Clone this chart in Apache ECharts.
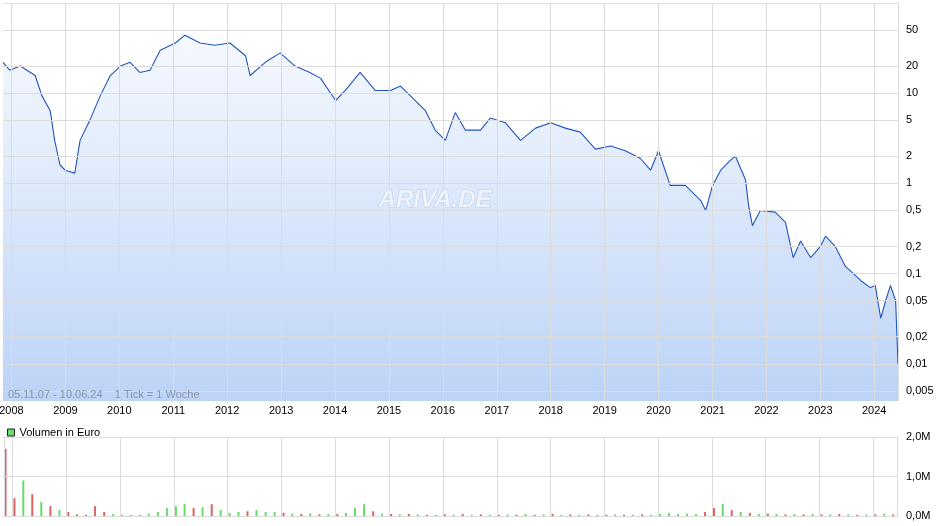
<!DOCTYPE html>
<html><head><meta charset="utf-8">
<script src="https://cdn.jsdelivr.net/npm/echarts@6/dist/echarts.min.js"></script>
<style>html,body{margin:0;padding:0;background:#fff}#c{width:940px;height:526px}</style>
</head><body><div id="c"></div>
<script>
const priceDates = ['2007-11-05','2007-12-20','2008-03-01','2008-06-10','2008-07-25','2008-09-20','2008-10-20','2008-11-25','2008-12-30','2009-03-05','2009-04-10','2009-06-15','2009-08-25','2009-11-01','2010-01-08','2010-03-15','2010-05-20','2010-07-28','2010-10-05','2011-01-15','2011-03-22','2011-07-01','2011-10-10','2012-01-20','2012-05-05','2012-06-05','2012-09-15','2012-12-25','2013-04-05','2013-07-15','2013-09-25','2014-01-05','2014-03-10','2014-06-20','2014-10-01','2015-01-12','2015-03-20','2015-05-25','2015-09-05','2015-11-10','2016-01-18','2016-03-25','2016-06-01','2016-09-12','2016-11-18','2017-02-28','2017-06-10','2017-09-20','2018-01-01','2018-04-10','2018-07-20','2018-10-30','2019-02-10','2019-05-20','2019-08-30','2019-11-08','2020-01-01','2020-03-20','2020-07-01','2020-10-12','2020-11-15','2021-01-01','2021-02-25','2021-05-01','2021-06-05','2021-08-12','2021-09-02','2021-09-28','2021-11-20','2022-03-01','2022-05-10','2022-07-01','2022-08-20','2022-10-28','2023-01-01','2023-02-05','2023-04-12','2023-06-20','2023-10-01','2023-12-05','2024-01-08','2024-02-14','2024-03-18','2024-04-20','2024-05-25','2024-06-10'];
const priceValues = [22,18,20,15.7,9.4,6.4,3,1.6,1.4,1.3,3,5,9.4,15.7,20,22,17,18,30,36,44,36,34,36,26,15.7,22,28,20,17,14.6,8.3,10.7,17,10.7,10.7,12,9.4,6.4,3.9,3,6.1,3.9,3.9,5.3,4.7,3,4.1,4.7,4.1,3.7,2.4,2.6,2.3,1.9,1.4,2.3,0.95,0.95,0.65,0.5,0.95,1.4,1.8,2.0,1.1,0.57,0.34,0.5,0.48,0.37,0.15,0.23,0.15,0.2,0.26,0.2,0.12,0.084,0.07,0.074,0.032,0.05,0.074,0.05,0.01];
const priceTicks = [50,20,10,5,2,1,0.5,0.2,0.1,0.05,0.02,0.01,0.005];
const priceTickLabels = ['50','20','10','5','2','1','0,5','0,2','0,1','0,05','0,02','0,01','0,005'];
const volMonths = ['2007-11','2008-01','2008-03','2008-05','2008-07','2008-09','2008-11','2009-01','2009-03','2009-05','2009-07','2009-09','2009-11','2010-01','2010-03','2010-05','2010-07','2010-09','2010-11','2011-01','2011-03','2011-05','2011-07','2011-09','2011-11','2012-01','2012-03','2012-05','2012-07','2012-09','2012-11','2013-01','2013-03','2013-05','2013-07','2013-09','2013-11','2014-01','2014-03','2014-05','2014-07','2014-09','2014-11','2015-01','2015-03','2015-05','2015-07','2015-09','2015-11','2016-01','2016-03','2016-05','2016-07','2016-09','2016-11','2017-01','2017-03','2017-05','2017-07','2017-09','2017-11','2018-01','2018-03','2018-05','2018-07','2018-09','2018-11','2019-01','2019-03','2019-05','2019-07','2019-09','2019-11','2020-01','2020-03','2020-05','2020-07','2020-09','2020-11','2021-01','2021-03','2021-05','2021-07','2021-09','2021-11','2022-01','2022-03','2022-05','2022-07','2022-09','2022-11','2023-01','2023-03','2023-05','2023-07','2023-09','2023-11','2024-01','2024-03','2024-05'];
const volValues = [1.7,0.45,0.9,0.55,0.35,0.25,0.15,0.1,0.04,0.03,0.25,0.1,0.05,0.03,0.02,0.03,0.06,0.1,0.2,0.25,0.3,0.2,0.22,0.3,0.15,0.08,0.1,0.12,0.15,0.1,0.1,0.08,0.06,0.05,0.06,0.04,0.05,0.05,0.08,0.2,0.3,0.12,0.06,0.05,0.04,0.05,0.04,0.03,0.03,0.04,0.03,0.05,0.03,0.04,0.03,0.03,0.04,0.03,0.05,0.03,0.04,0.05,0.03,0.04,0.03,0.04,0.03,0.03,0.04,0.03,0.03,0.04,0.03,0.05,0.08,0.05,0.06,0.05,0.1,0.2,0.3,0.15,0.1,0.08,0.05,0.06,0.05,0.04,0.05,0.04,0.05,0.04,0.04,0.05,0.04,0.03,0.04,0.04,0.06,0.04];
const volColors = 'rrgrgrgrrrrrggrggggggrgrgggrgggrgrgrgrgggrgrgrgrgrgrgrgrgrgrgrgrgrgrgrgrggggggrrgrgrgrgrgrgrgrgrgrgr';
const volTicks = [0,1,2];
const volTickLabels = ['0,0M','1,0M','2,0M'];
const years = [2008,2009,2010,2011,2012,2013,2014,2015,2016,2017,2018,2019,2020,2021,2022,2023,2024];

const L = Math.log10;
const chart = echarts.init(document.getElementById('c'));
const gridLineStyle = {color:'#dcdcdc', width:1, type:'solid'};
const xMin = +new Date('2007-11-05'), xMax = +new Date('2024-06-10');
chart.setOption({
  animation:false,
  grid:[{left:3,right:42,top:3,height:398,containLabel:false},{left:3,right:42,top:437,height:79}],
  legend:{data:[{name:'Volumen in Euro',icon:'rect',itemStyle:{color:'#66dd66',borderColor:'#222',borderWidth:1}}],left:2,top:422,itemWidth:7,itemHeight:7,itemGap:6,textStyle:{fontSize:11,color:'#000',fontFamily:'Liberation Sans'}},
  graphic:[
    {type:'text',z:100,left:8,top:389,style:{text:'05.11.07 - 10.06.24    1 Tick = 1 Woche',fill:'#8c96a8',fontSize:11,fontFamily:'Liberation Sans'}},
    {type:'text',z:100,left:378,top:188,style:{text:'ARIVA.DE',fill:'rgba(255,255,255,0.6)',fontSize:24,fontStyle:'italic',fontWeight:'bold',fontFamily:'Liberation Sans',stroke:'rgba(180,195,220,0.55)',lineWidth:1.2}}
  ],
  xAxis:[
    {type:'time',gridIndex:0,min:xMin,max:xMax,axisLine:{show:false},axisTick:{show:false},splitLine:{show:false},axisLabel:{show:false}},
    {type:'time',gridIndex:1,min:xMin,max:xMax,axisLine:{show:false},axisTick:{show:false},splitLine:{show:false},axisLabel:{show:false}}
  ],
  yAxis:[
    {type:'value',gridIndex:0,min:L(0.00387),max:2,axisLine:{show:false},axisTick:{show:false},axisLabel:{show:false},splitLine:{show:false}},
    {type:'value',gridIndex:1,min:0,max:2,axisLine:{show:false},axisTick:{show:false},axisLabel:{show:false},splitLine:{show:false}}
  ],
  series:[
    {type:'line',xAxisIndex:0,yAxisIndex:0,symbol:'none',z:3,
     data:priceDates.map((d,i)=>[d,L(priceValues[i])]),
     lineStyle:{color:'#1f55c0',width:1.1},
     areaStyle:{origin:'start',opacity:1,color:new echarts.graphic.LinearGradient(0,0,0,1,[{offset:0,color:'#f6f9fe'},{offset:1,color:'#bcd3f7'}])},
     markLine:{silent:true,symbol:'none',lineStyle:gridLineStyle,label:{position:'end',distance:8,color:'#000',fontSize:11,fontFamily:'Liberation Sans'},
       data:priceTicks.map((t,i)=>({yAxis:L(t),label:{formatter:priceTickLabels[i]}}))
         .concat(years.map(y=>({xAxis:+new Date(y+'-01-01'),label:{show:true,position:'start',distance:4,formatter:String(y)}})))
         .concat([{yAxis:2,label:{show:false}},{xAxis:xMax,label:{show:false}}])}
    },
    {name:'Volumen in Euro',type:'bar',xAxisIndex:1,yAxisIndex:1,barWidth:2,
     data:volMonths.map((m,i)=>({value:[m+'-15',volValues[i]],itemStyle:{color:volColors[i]==='g'?'#66dd66':'#e06060'}})),
     itemStyle:{color:'#66dd66'},
     markLine:{silent:true,symbol:'none',lineStyle:gridLineStyle,label:{position:'end',distance:8,color:'#000',fontSize:11,fontFamily:'Liberation Sans'},
       data:volTicks.map((t,i)=>({yAxis:t,label:{formatter:volTickLabels[i]}}))
         .concat(years.map(y=>({xAxis:+new Date(y+'-01-01'),label:{show:false}})))
         .concat([{xAxis:xMax,label:{show:false}},{xAxis:xMin,label:{show:false}}])}
    }
  ]
});
</script></body></html>
